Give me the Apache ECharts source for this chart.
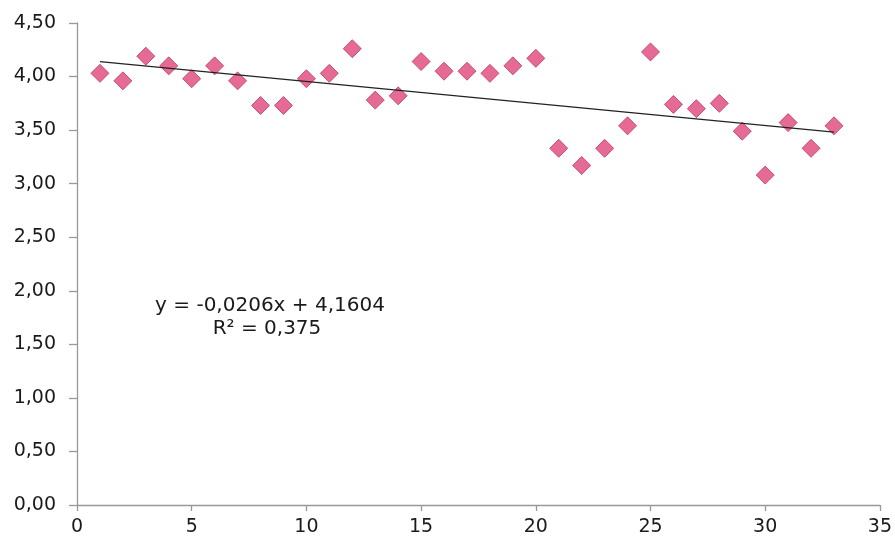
<!DOCTYPE html>
<html><head><meta charset="utf-8">
<script src="https://cdn.jsdelivr.net/npm/echarts@6/dist/echarts.min.js"></script>
<style>html,body{margin:0;padding:0;background:#fff}#c{width:895px;height:540px}</style>
</head><body><div id="c"></div>
<script>
const xValues = [1,2,3,4,5,6,7,8,9,10,11,12,13,14,15,16,17,18,19,20,21,22,23,24,25,26,27,28,29,30,31,32,33];
const yValues = [4.03,3.96,4.19,4.10,3.98,4.10,3.96,3.73,3.73,3.98,4.03,4.26,3.78,3.82,4.14,4.05,4.05,4.03,4.10,4.17,3.33,3.17,3.33,3.54,4.23,3.74,3.70,3.75,3.49,3.08,3.57,3.33,3.54];
const trendSlope = -0.0206;
const trendIntercept = 4.1604;
const rSquared = 0.375;
const equationLines = ['y = -0,0206x + 4,1604', 'R² = 0,375'];

const points = xValues.map((x, i) => [x, yValues[i]]);
const xFirst = xValues[0], xLast = xValues[xValues.length - 1];
const trendData = [[xFirst, trendIntercept + trendSlope * xFirst], [xLast, trendIntercept + trendSlope * xLast]];

const chart = echarts.init(document.getElementById('c'), null, {renderer: 'canvas'});
const font = 'DejaVu Sans, sans-serif';
const fmt = v => v.toFixed(2).replace('.', ',');
chart.setOption({
  animation: false,
  backgroundColor: '#fff',
  grid: {left: 77, right: 15, top: 23, bottom: 35},
  xAxis: {
    type: 'value', min: 0, max: 35, interval: 5,
    axisLine: {show: true, lineStyle: {color: '#999', width: 1.3}},
    axisTick: {show: true, length: 6, lineStyle: {color: '#999', width: 1.3}},
    splitLine: {show: false},
    axisLabel: {color: '#1a1a1a', fontSize: 19, fontFamily: font, margin: 13}
  },
  yAxis: {
    type: 'value', min: 0, max: 4.5, interval: 0.5,
    axisLine: {show: true, lineStyle: {color: '#999', width: 1.3}},
    axisTick: {show: true, length: 8, lineStyle: {color: '#999', width: 1.3}},
    splitLine: {show: false},
    axisLabel: {color: '#1a1a1a', fontSize: 19, fontFamily: font, margin: 21, formatter: fmt}
  },
  series: [
    {
      type: 'line', data: trendData, symbol: 'none', silent: true,
      lineStyle: {color: '#222', width: 1.3}, z: 3
    },
    {
      type: 'scatter', data: points, symbol: 'diamond', symbolSize: 18,
      itemStyle: {color: '#de457a', borderColor: '#c0375f', borderWidth: 1}, z: 2
    }
  ],
  graphic: [
    {type: 'text', x: 270, y: 306, style: {text: equationLines[0], fontSize: 20, fontFamily: font, fill: '#1a1a1a', align: 'center', verticalAlign: 'middle'}},
    {type: 'text', x: 267, y: 329, style: {text: equationLines[1], fontSize: 20, fontFamily: font, fill: '#1a1a1a', align: 'center', verticalAlign: 'middle'}}
  ]
});
</script></body></html>
